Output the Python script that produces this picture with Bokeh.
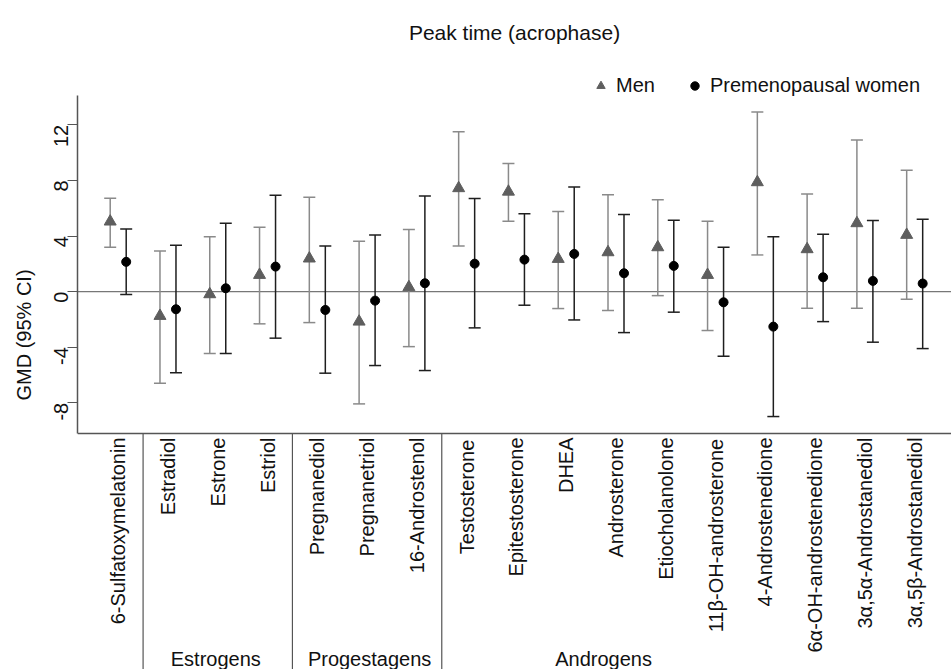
import numpy as np
from math import pi
from bokeh.plotting import figure
from bokeh.models import (ColumnDataSource, Whisker, TeeHead, Span, Legend, Label, LabelSet,
                          LegendItem, FixedTicker, Range1d)
from bokeh.core.properties import value
from bokeh.embed import file_html
from bokeh.resources import INLINE

# ---------------- data ----------------
categories = ["6-Sulfatoxymelatonin", "Estradiol", "Estrone", "Estriol",
              "Pregnanediol", "Pregnanetriol", "16-Androstenol",
              "Testosterone", "Epitestosterone", "DHEA", "Androsterone",
              "Etiocholanolone", "11β-OH-androsterone", "4-Androstenedione",
              "6α-OH-androstenedione", "3α,5α-Androstanediol", "3α,5β-Androstanediol"]

men_gmd = [5.04, -1.75, -0.19, 1.20, 2.38, -2.16, 0.32, 7.44, 7.19, 2.35, 2.83, 3.19, 1.20, 7.87, 3.05, 4.92, 4.08]
men_lo = [3.19, -6.59, -4.46, -2.32, -2.23, -8.08, -3.96, 3.29, 5.06, -1.22, -1.36, -0.29, -2.80, 2.64, -1.20, -1.20, -0.55]
men_hi = [6.72, 2.93, 3.94, 4.63, 6.79, 3.62, 4.46, 11.51, 9.21, 5.76, 6.96, 6.60, 5.06, 12.93, 7.03, 10.91, 8.73]

women_gmd = [2.14, -1.27, 0.24, 1.80, -1.32, -0.65, 0.60, 2.01, 2.30, 2.71, 1.32, 1.85, -0.77, -2.52, 1.03, 0.77, 0.58]
women_lo = [-0.21, -5.83, -4.46, -3.35, -5.87, -5.32, -5.68, -2.61, -0.98, -2.04, -2.95, -1.48, -4.65, -8.99, -2.16, -3.64, -4.10]
women_hi = [4.51, 3.34, 4.92, 6.94, 3.29, 4.08, 6.88, 6.69, 5.61, 7.53, 5.54, 5.13, 3.19, 3.94, 4.13, 5.11, 5.21]

group_names = ["Estrogens", "Progestagens", "Androgens"]
group_label_pos = [2.96, 6.05, 10.75]
group_separators = [1.5, 4.5, 7.5]

y_ticks = [-8, -4, 0, 4, 8, 12]
y_tick_labels = ["-8", "-4", "0", "4", "8", "12"]
y_data_bottom, y_data_top = -10.21, 14.11
title_text = "Peak time (acrophase)"
y_label = "GMD (95% CI)"

# ---------------- layout / styling ----------------
FONT = "Liberation Sans"
FS_PX = 20
FS = f"{FS_PX}px"
TITLE_PX = 21
TXT = "#111111"
MEN_MARK = "#5e5e5e"
MEN_BAR = "#8a8a8a"
WOM_MARK = "#000000"
WOM_BAR = "#1e1e1e"
AXIS_COL = "#555555"

W, H = 951, 669
LEFT = 77            # room for the y axis
TOP_PX = 95          # space above the data area (title + legend)
DATA_PX = 338        # height of the data area
CAT_PX = 49.78       # distance between categories
FIRST_CAT_PX = 117.7 # centre of the first category
ppu = DATA_PX / (y_data_top - y_data_bottom)
y_end = y_data_top + TOP_PX / ppu
y_start = y_data_bottom - (H - TOP_PX - DATA_PX) / ppu
x_start = 1 - (FIRST_CAT_PX - LEFT) / CAT_PX
x_end = 1 + (W - FIRST_CAT_PX) / CAT_PX

# Liberation Sans / Arial advance widths (per 1000 em) used to anchor texts by their start
_ADV = {' ': 278, '(': 333, ')': 333, ',': 278, '-': 333, '1': 556, '3': 556, '5': 556, '6': 556,
        'A': 667, 'D': 722, 'E': 667, 'H': 722, 'O': 778, 'P': 667, 'S': 667, 'T': 611,
        'a': 556, 'c': 500, 'd': 556, 'e': 556, 'f': 278, 'g': 556, 'h': 556, 'i': 222, 'k': 500,
        'l': 222, 'm': 833, 'n': 556, 'o': 556, 'p': 556, 'r': 333, 's': 500, 't': 278, 'u': 556,
        'x': 500, 'y': 500, 'α': 579, 'β': 569}


def text_px(s, size=FS_PX):
    return sum(_ADV.get(ch, 556) for ch in s) * size / 1000.0


x_idx = np.arange(1, len(categories) + 1)
dodge = 8 / CAT_PX

men_src = ColumnDataSource(dict(x=x_idx - dodge, y=men_gmd, lo=men_lo, hi=men_hi))
wom_src = ColumnDataSource(dict(x=x_idx + dodge, y=women_gmd, lo=women_lo, hi=women_hi))

p = figure(width=W, height=H, title=None, x_axis_location=None,
           x_range=Range1d(x_start, x_end), y_range=Range1d(y_start, y_end),
           output_backend="svg", toolbar_location=None,
           min_border_left=LEFT, min_border_top=0, min_border_bottom=0, min_border_right=0)
p.outline_line_color = None
p.grid.visible = False
p.background_fill_color = "white"
p.border_fill_color = "white"

# zero reference line and bottom axis line
p.add_layout(Span(location=0, dimension="width", line_color="#777777", line_width=1.2, level="underlay"))
p.add_layout(Span(location=y_data_bottom, dimension="width", line_color=AXIS_COL, line_width=1.5))

# group separators below the axis
p.segment(x0=group_separators, y0=[y_data_bottom] * len(group_separators),
          x1=group_separators, y1=[y_start] * len(group_separators),
          line_color=AXIS_COL, line_width=1.2)

# error bars
for src, col in ((men_src, MEN_BAR), (wom_src, WOM_BAR)):
    w = Whisker(source=src, base="x", lower="lo", upper="hi", dimension="height",
                line_color=col, line_width=1.5, level="underlay",
                upper_head=TeeHead(size=12, line_color=col, line_width=1.5),
                lower_head=TeeHead(size=12, line_color=col, line_width=1.5))
    p.add_layout(w)

r_men = p.scatter("x", "y", source=men_src, marker="triangle", size=12,
                  fill_color=MEN_MARK, line_color=MEN_MARK)
r_wom = p.scatter("x", "y", source=wom_src, marker="circle", size=9,
                  fill_color=WOM_MARK, line_color=WOM_MARK)

# category labels: vertical, reading upwards, ending 4px below the axis
cat_y = [y_data_bottom - (4 + text_px(c)) / ppu for c in categories]
cat_src = ColumnDataSource(dict(x=x_idx, y=cat_y, text=categories))
p.add_layout(LabelSet(source=cat_src, x="x", y="y", text="text", angle=pi / 2,
                      text_align="left", text_baseline="middle",
                      text_font=value(FONT), text_font_size=value(FS), text_color=TXT))

# group labels (anchored at their start)
grp_x = [pos - text_px(n) / 2 / CAT_PX for pos, n in zip(group_label_pos, group_names)]
grp_src = ColumnDataSource(dict(x=grp_x, y=[y_start] * len(group_names), text=group_names))
p.add_layout(LabelSet(source=grp_src, x="x", y="y", text="text", y_offset=4,
                      text_align="left", text_baseline="alphabetic",
                      text_font=value(FONT), text_font_size=value(FS), text_color=TXT))

# title, centred over the plot area
x_mid = (x_start + x_end) / 2
p.add_layout(Label(x=x_mid - text_px(title_text, TITLE_PX) / 2 / CAT_PX, y=y_end, y_offset=-32,
                   text=title_text, text_align="left", text_baseline="alphabetic",
                   text_font=FONT, text_font_size=f"{TITLE_PX}px", text_color=TXT))

# ---------------- y axis ----------------
ya = p.yaxis[0]
ya.bounds = (y_data_bottom, y_data_top)
ya.ticker = FixedTicker(ticks=y_ticks, minor_ticks=[])
ya.major_label_overrides = {t: l for t, l in zip(y_ticks, y_tick_labels)}
ya.major_label_orientation = pi / 2
ya.major_label_text_font = FONT
ya.major_label_text_font_size = FS
ya.major_label_text_color = TXT
ya.major_label_standoff = 6
ya.major_tick_out = 10
ya.major_tick_in = 0
ya.major_tick_line_color = AXIS_COL
ya.major_tick_line_width = 1.2
ya.axis_line_color = AXIS_COL
ya.axis_line_width = 1.5
ya.axis_label = y_label
ya.axis_label_text_font = FONT
ya.axis_label_text_font_size = FS
ya.axis_label_text_font_style = "normal"
ya.axis_label_text_color = TXT
ya.axis_label_standoff = 10

# ---------------- legend ----------------
legend = Legend(items=[LegendItem(label="Men", renderers=[r_men]),
                       LegendItem(label="Premenopausal women", renderers=[r_wom])],
                orientation="horizontal", location=(513, 572),
                glyph_width=21, glyph_height=21, label_standoff=5, spacing=29,
                padding=0, margin=0, border_line_color=None, background_fill_alpha=0,
                label_text_font=FONT, label_text_font_size=FS, label_text_color=TXT)
p.add_layout(legend, "center")

open("out.html", "w").write(file_html(p, INLINE))
